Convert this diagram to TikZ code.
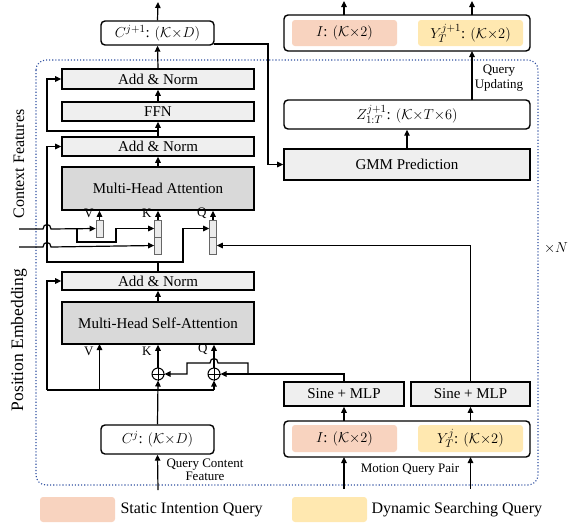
\documentclass[tikz,border=0pt]{standalone}
\usepackage{fontspec}
\setmainfont{Liberation Serif}
\usetikzlibrary{arrows.meta}
\definecolor{lg}{HTML}{EFEFEF}
\definecolor{dg}{HTML}{D9D9D9}
\definecolor{peach}{HTML}{F8D3BF}
\definecolor{yel}{HTML}{FFE8B0}
\definecolor{frameblue}{HTML}{2E4FA0}
\begin{document}
\begin{tikzpicture}[x=1pt,y=-1pt,
  font=\fontsize{15}{17}\selectfont,
  lbox/.style={draw, line width=1.6pt, fill=lg, inner sep=0pt},
  dbox/.style={draw, line width=1.6pt, fill=dg, inner sep=0pt},
  rbox/.style={draw, line width=1.4pt, rounded corners=4pt, fill=white, inner sep=0pt},
  cbox/.style={fill=#1, rounded corners=3pt, inner sep=0pt},
  tok/.style={draw=black!60, line width=0.7pt, fill=black!8, inner sep=0pt, minimum width=7pt},
  conn/.style={line width=1.2pt, -{Triangle[length=6pt,width=5.5pt]}},
  plain/.style={line width=1.2pt},
  small/.style={font=\fontsize{13}{14}\selectfont},
  oplus/.style={draw, circle, line width=1pt, fill=white, minimum size=12pt, inner sep=0pt}
]
\useasboundingbox (0,0) rectangle (568,523);

% frame
\draw[frameblue, dotted, line width=1.1pt, rounded corners=10pt] (36,60) rectangle (538,485);

% left column
\node[rbox, minimum width=113pt, minimum height=24pt] (cout) at (157.5,33) {$C^{j+1}$: $(\mathcal{K}{\times}D)$};
\node[lbox, minimum width=192pt, minimum height=20pt] (an1) at (158,79) {Add \& Norm};
\node[lbox, minimum width=192pt, minimum height=19pt] (ffn) at (158,111.5) {FFN};
\node[lbox, minimum width=192pt, minimum height=19pt] (an2) at (158,146.5) {Add \& Norm};
\node[dbox, minimum width=192pt, minimum height=43pt] (mha) at (158,188.5) {Multi-Head Attention};
\node[lbox, minimum width=192pt, minimum height=18pt] (an3) at (158,281) {Add \& Norm};
\node[dbox, minimum width=192pt, minimum height=42pt] (mhsa) at (158,323) {Multi-Head Self-Attention};
\node[rbox, minimum width=113pt, minimum height=29pt] (cj) at (157.5,439.5) {$C^{j}$: $(\mathcal{K}{\times}D)$};

% token boxes
\node[tok, minimum height=17pt] (vb) at (99.5,228.5) {};
\node[tok, minimum height=17pt] (ku) at (158,228.5) {};
\node[tok, minimum height=17pt] (kl) at (158,245.5) {};
\node[tok, minimum height=17pt] (qu) at (213,228.5) {};
\node[tok, minimum height=17pt] (ql) at (213,245.5) {};

\node[oplus] (p1) at (158,374) {};
\node[oplus] (p2) at (214,374) {};
\draw[line width=0.9pt] (p1.north) -- (p1.south) (p1.west) -- (p1.east);
\draw[line width=0.9pt] (p2.north) -- (p2.south) (p2.west) -- (p2.east);

% right column
\node[rbox, minimum width=246pt, minimum height=36pt] (top) at (407,33) {};
\node[cbox=peach, minimum width=105pt, minimum height=26pt] (itop) at (344.5,33) {$I$: $(\mathcal{K}{\times}2)$};
\node[cbox=yel, minimum width=105pt, minimum height=26pt] (ytop) at (470.5,33) {$Y_T^{j+1}$: $(\mathcal{K}{\times}2)$};
\node[rbox, minimum width=246pt, minimum height=29pt] (z) at (407,114.5) {$Z_{1:T}^{j+1}$: $(\mathcal{K}{\times}T{\times}6)$};
\node[lbox, minimum width=246pt, minimum height=31pt] (gmm) at (407,164.5) {GMM Prediction};
\node[lbox, minimum width=120pt, minimum height=24pt] (s1) at (344,394) {Sine + MLP};
\node[lbox, minimum width=119pt, minimum height=24pt] (s2) at (470.5,394) {Sine + MLP};
\node[rbox, minimum width=246pt, minimum height=36pt] (mqp) at (407,439) {};
\node[cbox=peach, minimum width=105pt, minimum height=27pt] (ibot) at (344.5,438.5) {$I$: $(\mathcal{K}{\times}2)$};
\node[cbox=yel, minimum width=105pt, minimum height=27pt] (ybot) at (470.5,438.5) {$Y_T^{j}$: $(\mathcal{K}{\times}2)$};

% coordinates
\coordinate (o1) at (158,2);
\coordinate (o2) at (344,1);
\coordinate (o3) at (472,1);
\coordinate (in1) at (344,489);
\coordinate (in2) at (470.5,489);
\coordinate (inc) at (158,490);
\coordinate (ctx) at (19,229);
\coordinate (pos) at (19,247);
\coordinate (vs) at (99.5,390);
\coordinate (vt) at (99.5,344);

% main spine
\draw[conn] (cout.north) -- (o1);
\draw[conn] (an1.north) -- (cout.south);
\draw[conn] (ffn.north) -- (an1.south);
\draw[conn] (an2.north) -- (ffn.south);
\draw[conn] (mha.north) -- (an2.south);
\draw[conn] (mhsa.north) -- (an3.south);
\draw[conn] (158,131) -- (47,131) -- (47,79) -- (an1.west);
\draw[conn] (an3.north) -- (158,262) -- (47,262) -- (47,146.5) -- (an2.west);
\draw[conn] (158,262) -- (183,262) -- (183,228.5) -- (qu.west);

% token arrows into MHA
\draw[conn] (vb.north) -- (vb.north |- mha.south);
\draw[conn] (ku.north) -- (ku.north |- mha.south);
\draw[conn] (qu.north) -- (qu.north |- mha.south);
\node[small, anchor=east] at (97,213) {V};
\node[small, anchor=east] at (155,213) {K};
\node[small, anchor=east] at (210,213) {Q};

% context & position inputs
\draw[conn] (ctx) -- (43,229) .. controls (43,223) and (51,223) .. (51,229) -- (vb.west);
\draw[conn] (77,229) -- (77,242) -- (116,242) -- (116,228.5) -- (ku.west);
\draw[conn] (pos) -- (43,247) .. controls (43,241) and (51,241) .. (51,247) -- (kl.west);
\node[rotate=90, font=\fontsize{16}{18}\selectfont] at (19,164) {Context Features};
\node[rotate=90, font=\fontsize{17.5}{19}\selectfont] at (19,340) {Position Embedding};

% query pos
\draw[conn] (s2.north) -- (470.5,245.5) -- (ql.east);
\draw[conn] (s1.north) -- (344,374) -- (p2.east);
\draw[conn] (248,374) -- (248,363) -- (218,363) .. controls (218,357) and (210,357) .. (210,363) -- (187,363) -- (187,374) -- (p1.east);

% self attention inputs
\draw[conn] (p1.north) -- (p1.north |- mhsa.south);
\draw[conn] (p2.north) -- (p2.north |- mhsa.south);
\draw[conn] (cj.north) -- (p1.south);
\draw[plain] (47,390) -- (214,390);
\draw[conn] (214,390) -- (p2.south);
\draw[conn] (47,390) -- (47,281) -- (an3.west);
\draw[conn] (vs) -- (vt);
\node[small, anchor=east] at (97,351) {V};
\node[small, anchor=east] at (155,351) {K};
\node[small, anchor=east] at (211,349) {Q};
\draw[conn] (inc) -- (cj.south);
\node[small, align=center, font=\fontsize{13}{13.5}\selectfont] at (205,470) {Query Content\\Feature};

% right side arrows
\draw[conn] (214,44) -- (268,44) -- (268,164.5) -- (gmm.west);
\draw[conn] (gmm.north) -- (z.south);
\draw[conn] (472,100) -- (472,51);
\node[small, align=center, font=\fontsize{13}{14.5}\selectfont] at (499,78) {Query\\Updating};
\draw[conn] (344,15) -- (o2);
\draw[conn] (472,15) -- (o3);
\draw[conn] (in1) -- (344,457);
\draw[conn] (in2) -- (470.5,457);
\draw[conn] (344,421) -- (s1.south);
\draw[conn] (470.5,421) -- (s2.south);
\node[small] at (410,470) {Motion Query Pair};
\node at (556,248) {$\times N$};

% legend
\node[cbox=peach, minimum width=75pt, minimum height=25pt] (lg1) at (77.5,509.5) {};
\node[anchor=west, font=\fontsize{16}{18}\selectfont] at (117,510) {Static Intention Query};
\node[cbox=yel, minimum width=75pt, minimum height=25pt] (lg2) at (329.5,509.5) {};
\node[anchor=west, font=\fontsize{16}{18}\selectfont] at (368,510) {Dynamic Searching Query};
\end{tikzpicture}
\end{document}
